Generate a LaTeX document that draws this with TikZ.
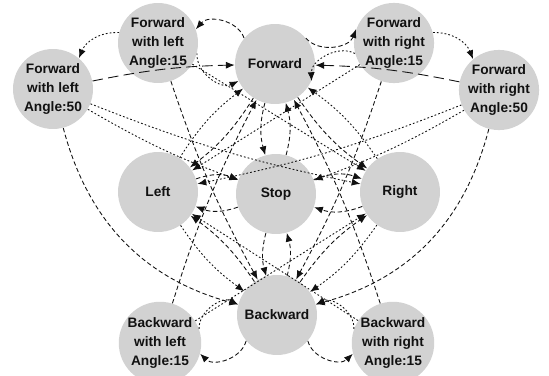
\documentclass[tikz,border=0pt]{standalone}
\usepackage{fontspec}
\setmainfont{Liberation Sans}
\usetikzlibrary{arrows.meta}
\definecolor{stfill}{HTML}{D2D2D2}
\definecolor{stink}{HTML}{111111}
\tikzset{
  ststate/.style={
    circle, fill=stfill, minimum size=1.6cm, inner sep=0pt,
    align=center, text=stink,
    font=\bfseries\fontsize{7.8}{11}\selectfont},
  stedge/.style={-{Latex[length=5pt,width=4pt]}, draw=stink,
    line width=0.5pt, dash pattern=on 2.5pt off 1.5pt},
  stdot/.style={stedge, dash pattern=on 1pt off 1.2pt},
  stlong/.style={stedge, dash pattern=on 6pt off 3pt},
}

\begin{document}
\begin{tikzpicture}[x=0.02cm, y=0.02cm]
\useasboundingbox (0,0) rectangle (549,376);

% States.
\node[ststate] (fl50) at (53,287) {Forward\\with left\\Angle:50};
\node[ststate] (fl15) at (158,333) {Forward\\with left\\Angle:15};
\node[ststate] (fwd) at (275,312) {Forward};
\node[ststate] (fr15) at (394,333) {Forward\\with right\\Angle:15};
\node[ststate] (fr50) at (499,286) {Forward\\with right\\Angle:50};
\node[ststate] (left) at (158,184) {Left};
\node[ststate] (stop) at (276,182) {Stop};
\node[ststate] (right) at (400,184) {Right};
\node[ststate] (bwd) at (277,61) {Backward};
\node[ststate] (bl15) at (160,33) {Backward\\with left\\Angle:15};
\node[ststate] (br15) at (393,33) {Backward\\with right\\Angle:15};

% Turning arcs round the top.
\draw[stdot] (fl15.165) to[bend right=35] (fl50.50);
\draw[stdot] (fl15.-15) to[bend right=60] (fwd.205);
\draw[stedge] (fwd.140) to[bend right=60] (fl15.20);
\draw[stedge] (fwd.40) to[bend right=60] (fr15.160);
\draw[stdot] (fr15.195) to[bend right=60] (fwd.-25);
\draw[stdot] (fr15.15) to[bend left=35] (fr50.130);

% Turning arcs round the bottom.
\draw[stedge] (fl50) to[bend right=30] (bwd);
\draw[stedge] (fr50) to[bend left=30] (bwd);
\draw[stdot] (bl15.20) to[bend left=60] (bwd.165);
\draw[stedge] (bwd.220) to[bend left=60] (bl15.-15);
\draw[stdot] (br15.160) to[bend right=60] (bwd.15);
\draw[stedge] (bwd.-40) to[bend right=60] (br15.195);

% Long crossings from the outer states.
\draw[stlong] (fl50) to[bend left=5] (fwd);
\draw[stlong] (fr50) to[bend right=5] (fwd);
\draw[stdot] (fl50) to[bend right=5] (stop);
\draw[stdot] (fr50) to[bend left=5] (stop);
\draw[stdot] (fl50) to[bend right=5] (right);
\draw[stdot] (fr50) to[bend left=5] (left);
\draw[stedge] (fl15) to[bend right=5] (bwd);
\draw[stedge] (fr15) to[bend left=5] (bwd);
\draw[stdot] (fl15) to (right);
\draw[stdot] (fr15) to (left);
\draw[stedge] (bl15) to[bend left=5] (fwd);
\draw[stedge] (br15) to[bend right=5] (fwd);
\draw[stdot] (bl15) to (right);
\draw[stdot] (br15) to (left);

% Moves between the five main states.
\draw[stedge] (fwd) to[bend right=15] (stop);
\draw[stedge] (stop) to[bend right=15] (fwd);
\draw[stedge] (stop) to[bend right=15] (bwd);
\draw[stedge] (bwd) to[bend right=15] (stop);
\draw[stdot] (left) to[bend left=10] (fwd);
\draw[stedge] (fwd) to[bend left=10] (left);
\draw[stdot] (right) to[bend right=10] (fwd);
\draw[stedge] (fwd) to[bend right=10] (right);
\draw[stdot] (left) to[bend right=10] (bwd);
\draw[stedge] (bwd) to[bend right=10] (left);
\draw[stdot] (right) to[bend left=10] (bwd);
\draw[stedge] (bwd) to[bend left=10] (right);
\draw[stedge] (left) to[bend left=20] (stop);
\draw[stedge] (stop) to[bend left=20] (left);
\draw[stedge] (stop) to[bend left=20] (right);
\draw[stedge] (right) to[bend left=20] (stop);

\end{tikzpicture}
\end{document}
